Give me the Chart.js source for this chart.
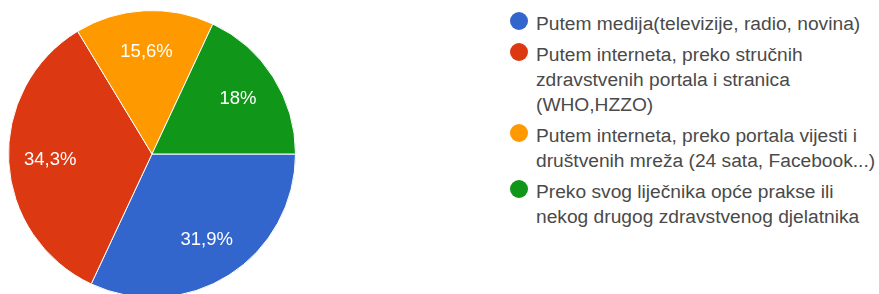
<!DOCTYPE html>
<html>
<head>
<meta charset="utf-8">
<script src="https://cdn.jsdelivr.net/npm/chart.js@4.4.1/dist/chart.umd.min.js"></script>
<style>
  html, body { margin: 0; padding: 0; width: 879px; height: 294px; overflow: hidden; background: #fff; }
  #pieBox { position: absolute; left: 0; top: 0; width: 304px; height: 308px; }
  #legend { position: absolute; left: 509px; top: 10.5px; font-family: "Liberation Sans", Arial, sans-serif; font-size: 19.2px; line-height: 25px; color: #4a4a4a; }
  .item { display: flex; align-items: flex-start; margin-bottom: 6px; }
  .dot { width: 18px; height: 18px; border-radius: 50%; margin-top: 1.5px; margin-left: 0.5px; margin-right: 8.5px; flex: none; }
</style>
</head>
<body>
<div id="pieBox"><canvas id="pie"></canvas></div>
<div id="legend"></div>
<script>
// answer categories (one entry per legend line)
const labels = [
  ["Putem medija(televizije, radio, novina)"],
  ["Putem interneta, preko stručnih", "zdravstvenih portala i stranica", "(WHO,HZZO)"],
  ["Putem interneta, preko portala vijesti i", "društvenih mreža (24 sata, Facebook...)"],
  ["Preko svog liječnika opće prakse ili", "nekog drugog zdravstvenog djelatnika"]
];
const shares = [31.9, 34.3, 15.6, 18];
const shareText = ["31,9%", "34,3%", "15,6%", "18%"];
const colors = ['#3366cc', '#dc3912', '#ff9900', '#109618'];

// white percentage text inside each slice
const sliceLabels = {
  id: 'sliceLabels',
  afterDatasetsDraw(chart) {
    const ctx = chart.ctx;
    const arcs = chart.getDatasetMeta(0).data;
    ctx.save();
    ctx.fillStyle = '#fff';
    ctx.font = '18.5px "Liberation Sans", Arial, sans-serif';
    ctx.textAlign = 'center';
    ctx.textBaseline = 'middle';
    arcs.forEach((arc, i) => {
      const p = arc.getProps(['x', 'y', 'startAngle', 'endAngle', 'outerRadius'], true);
      const mid = (p.startAngle + p.endAngle) / 2;
      const r = p.outerRadius * 0.71;
      ctx.fillText(shareText[i], p.x + Math.cos(mid) * r, p.y + Math.sin(mid) * r);
    });
    ctx.restore();
  }
};

new Chart(document.getElementById('pie'), {
  type: 'pie',
  data: {
    labels: labels,
    datasets: [{
      data: shares,
      backgroundColor: colors,
      borderColor: '#fff',
      borderWidth: 1
    }]
  },
  options: {
    responsive: true,
    maintainAspectRatio: false,
    animation: false,
    rotation: 90,
    layout: { padding: 8 },
    plugins: { legend: { display: false }, tooltip: { enabled: false } }
  },
  plugins: [sliceLabels]
});

// legend on the right, built from the same arrays
const legend = document.getElementById('legend');
labels.forEach((lines, i) => {
  const item = document.createElement('div');
  item.className = 'item';
  const dot = document.createElement('span');
  dot.className = 'dot';
  dot.style.background = colors[i];
  const txt = document.createElement('div');
  txt.innerHTML = lines.join('<br>');
  item.appendChild(dot);
  item.appendChild(txt);
  legend.appendChild(item);
});
</script>
</body>
</html>
